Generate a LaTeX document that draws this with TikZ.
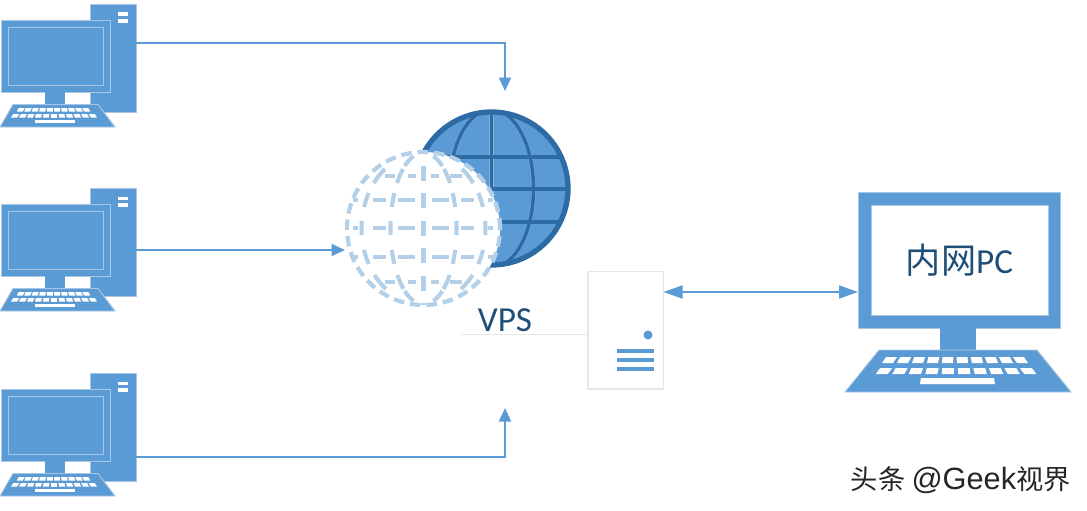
\documentclass[tikz,border=0pt]{standalone}
\usepackage{fontspec}
\setmainfont{Carlito}
\newfontfamily\cjk{Noto Sans CJK SC}
\newfontfamily\wmark{Liberation Sans}
\usetikzlibrary{arrows.meta}
\definecolor{officeblue}{HTML}{5B9BD5}
\definecolor{paleedge}{HTML}{A9C6E4}
\definecolor{globeedge}{HTML}{86B2DC}
\definecolor{globedark}{HTML}{2C6BA3}
\definecolor{ghostblue}{HTML}{B4CFE8}
\definecolor{labelblue}{HTML}{1F4E79}
\definecolor{serveredge}{HTML}{E6E6E6}
\newcommand{\keyrow}[6]{%
	\foreach \k in {1,...,#4}{%
		\pgfmathsetmacro{\kx}{#1+(\k-(#4+1)/2)*#5}
		\pgfmathsetmacro{\ks}{(\kx-#1)*0.06}
		\fill[white] (\kx-#6-\ks,#2) -- (\kx+#6-\ks,#2) -- (\kx+#6,#3) -- (\kx-#6,#3) -- cycle;
	}}
\tikzset{
	block/.style={draw=paleedge, fill=officeblue, line width=0.5pt, inner sep=0pt, outer sep=0pt},
	link/.style={officeblue, line width=1.05pt, -{Triangle[length=0.27cm,width=0.24cm]}},
	biglink/.style={officeblue, line width=1.05pt, {Triangle[length=0.38cm,width=0.26cm]}-{Triangle[length=0.38cm,width=0.26cm]}},
	gridline/.style={globedark, line width=2pt},
	gridedge/.style={globeedge, line width=2.5pt},
	ghostline/.style={ghostblue, line width=2.3pt},
}
\begin{document}
\begin{tikzpicture}[x=0.02cm, y=-0.02cm]
	\useasboundingbox (0,0) rectangle (1087,510);
	
	% Rechner links
	\foreach \n/\yy in {1/0,2/184,3/369}{
		\begin{scope}[shift={(0,\yy)}]
			\node[block, minimum width=0.91cm, minimum height=2.16cm] (tower\n) at (113.25,58) {};
			\fill[white] (118,12.5) rectangle (128,16);
			\fill[white] (118,19) rectangle (128,23);
			\node[block, minimum width=2.18cm, minimum height=1.44cm] (monitor\n) at (55.5,56) {};
			\draw[paleedge, line width=0.5pt] (8,27) rectangle (103,85.5);
			\fill[officeblue] (45,92) rectangle (65,104.5);
			\draw[block] (13,104.5) -- (98,104.5) -- (115,127) -- (0,127) -- cycle;
			\keyrow{53.5}{108}{111.5}{10}{7.5}{3}
			\keyrow{54}{114}{117.5}{11}{8}{3}
			\fill[white] (35,119.5) rectangle (75,122.5);
		\end{scope}
	}
	
	% Globus
	\node[circle, fill=officeblue, minimum size=3.12cm, inner sep=0pt] (globe) at (491.5,188.5) {};
	\begin{scope}
		\clip (491.5,188.5) circle (77);
		\foreach \st in {gridedge,gridline}{
			\draw[\st] (491.5,188.5) ellipse (42 and 79);
			\draw[\st] (491.5,105) -- (491.5,270);
			\foreach \yy in {157,189,222}
				\draw[\st] (410,\yy) -- (575,\yy);
		}
	\end{scope}
	\draw[globedark, line width=3pt] (globe.center) circle (76.5);
	
	% gestrichelter Globus
	\node[circle, draw=ghostblue, fill=white, line width=2.4pt, dash pattern=on 6pt off 3.4pt, minimum size=3.06cm, inner sep=0pt] (ghost) at (423.5,228.5) {};
	\draw[ghostline, dash pattern=on 8.5pt off 7.1pt, dash phase=7.65pt] (423.5,152) -- (423.5,305);
	% Meridiane stueckweise
	\foreach \yc in {176,200,228,257,282}
		\foreach \s in {-1,1}
			\foreach \a in {33,62}
				\draw[ghostline] plot[domain=\yc-7:\yc+7, samples=5] ({423.5+\s*\a*sqrt(1-((\x-228.5)/76)^2)},\x);
	\foreach \yc in {161,296}
		\foreach \s in {-1,1}
			\draw[ghostline] plot[domain=\yc-5:\yc+5, samples=5] ({423.5+\s*33*sqrt(1-((\x-228.5)/76)^2)},\x);
	% Breitenkreise
	\foreach \yy in {200,228,257}
		\foreach \xa/\xb in {353/358,373/386,398/415,432/449,461/474,488/493}
			\draw[ghostline] (\xa,\yy) -- (\xb,\yy);
	\foreach \yy in {176,282}
		\foreach \xa/\xb in {385/395,408/416,431/439,450/462}
			\draw[ghostline] (\xa,\yy) -- (\xb,\yy);
	
	% VPS
	\draw[serveredge, line width=0.5pt] (461,334.5) -- (588,334.5);
	\node[text=labelblue, font=\fontsize{20}{22}\selectfont, inner sep=0pt] (vpslabel) at (505,320) {VPS};
	\node[draw=serveredge, fill=white, line width=0.6pt, minimum width=1.51cm, minimum height=2.35cm, inner sep=0pt, outer sep=0pt] (server) at (625.75,330.25) {};
	\fill[officeblue] (648,335) circle (4.5);
	\foreach \yy in {351,360,369}
		\draw[officeblue, line width=1.8pt] (617,\yy) -- (654,\yy);
	
	% Laptop rechts
	\node[block, minimum width=4.05cm, minimum height=2.71cm] (screen) at (959.25,260.25) {};
	\node[draw=paleedge, fill=white, line width=0.5pt, minimum width=3.54cm, minimum height=2.2cm, inner sep=0pt, text=labelblue, font=\fontsize{20}{24}\selectfont] (pclabel) at (959.5,260.5) {{\cjk 内网}PC};
	\fill[officeblue] (940,328) rectangle (976,350.5);
	\draw[block] (879,350) -- (1037,350) -- (1071,392) -- (845,392) -- cycle;
	\keyrow{955}{357}{363}{10}{15}{5.5}
	\keyrow{956}{368}{374}{10}{16.5}{6}
	\fill[white] (921,378) -- (994,378) -- (995,384) -- (920,384) -- cycle;
	
	% Wasserzeichen
	\node[font=\fontsize{15.5}{18}\selectfont, text=black!85, inner sep=0pt, anchor=east] (watermark) at (1071,480) {{\cjk 头条} {\wmark\fontsize{17.5}{18}\selectfont @Geek}{\cjk 视界}};
	
	% Verbindungen
	\coordinate (out1) at (136,43);
	\coordinate (out2) at (136,250);
	\coordinate (out3) at (136,457);
	\coordinate (inTop) at (505,91);
	\coordinate (inMid) at (345,250);
	\coordinate (inBottom) at (505,408);
	\coordinate (hub) at (760,292);
	\draw[link] (out1) -| (inTop);
	\draw[link] (out2) -- (inMid);
	\draw[link] (out3) -| (inBottom);
	\draw[biglink] (server.east |- hub) -- (screen.west |- hub);
\end{tikzpicture}
\end{document}
